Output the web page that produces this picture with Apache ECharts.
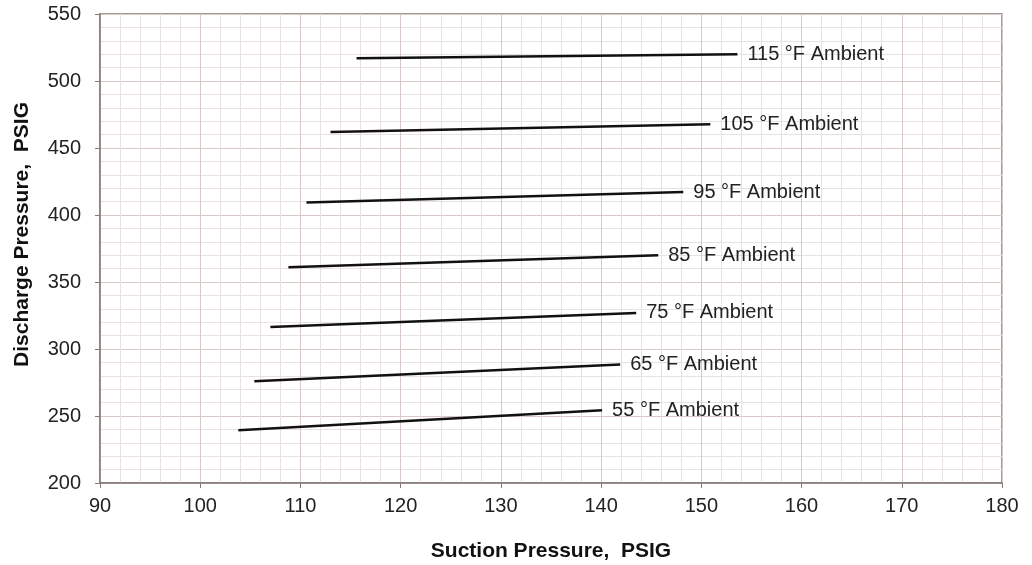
<!DOCTYPE html>
<html>
<head>
<meta charset="utf-8">
<script src="https://cdn.jsdelivr.net/npm/echarts@6/dist/echarts.min.js"></script>
<style>
  html, body { margin: 0; padding: 0; background: #fff; }
  #chart { width: 1032px; height: 565px; }
</style>
</head>
<body>
<div id="chart"></div>
<script>
// Discharge vs. suction pressure for each ambient temperature
const ambientLabels = ['55 °F Ambient', '65 °F Ambient', '75 °F Ambient', '85 °F Ambient',
                       '95 °F Ambient', '105 °F Ambient', '115 °F Ambient'];
// [suction PSIG, discharge PSIG] at the start and end of each line
const amb55  = [[103.8, 239.3], [140.1, 254.3]];
const amb65  = [[105.4, 275.9], [141.9, 288.4]];
const amb75  = [[107.0, 316.5], [143.5, 326.9]];
const amb85  = [[108.8, 361.1], [145.7, 370.0]];
const amb95  = [[110.6, 409.4], [148.2, 417.1]];
const amb105 = [[113.0, 461.9], [150.9, 467.8]];
const amb115 = [[115.6, 516.9], [153.6, 519.9]];
const ambientData = [amb55, amb65, amb75, amb85, amb95, amb105, amb115];

const xTicks = { min: 90, max: 180, interval: 10 };
const yTicks = { min: 200, max: 550, interval: 50 };

const FONT = '"Liberation Sans", Arial, sans-serif';
const axisColor = '#857a76';
const majorGrid = '#d6c9c6';
const minorGrid = '#e9e1e0';

const chart = echarts.init(document.getElementById('chart'), null, { renderer: 'canvas' });

function axisCommon(extra) {
  return Object.assign({
    type: 'value',
    axisLine: { show: true, onZero: false, lineStyle: { color: axisColor, width: 1.5 } },
    axisTick: { show: true, length: 5, lineStyle: { color: axisColor, width: 1 } },
    splitLine: { show: true, lineStyle: { color: majorGrid, width: 1 } },
    minorTick: { show: true, splitNumber: 5, length: 0 },
    minorSplitLine: { show: true, lineStyle: { color: minorGrid, width: 1 } },
    axisLabel: { color: '#222', fontFamily: FONT, fontSize: 20 }
  }, extra);
}

const option = {
  backgroundColor: '#fff',
  animation: false,
  grid: {
    left: 100, right: 30, top: 14, bottom: 82,
    outerBoundsMode: 'none', containLabel: false,
    show: true, borderColor: axisColor, borderWidth: 1.5, backgroundColor: 'transparent'
  },
  xAxis: axisCommon({
    min: xTicks.min, max: xTicks.max, interval: xTicks.interval,
    name: 'Suction Pressure,  PSIG', nameLocation: 'middle', nameGap: 58,
    nameTextStyle: { color: '#111', fontFamily: FONT, fontSize: 21, fontWeight: 'bold' },
    axisLabel: { color: '#222', fontFamily: FONT, fontSize: 20, margin: 13 }
  }),
  yAxis: axisCommon({
    min: yTicks.min, max: yTicks.max, interval: yTicks.interval,
    name: 'Discharge Pressure,  PSIG', nameLocation: 'middle', nameGap: 67,
    nameTextStyle: { color: '#111', fontFamily: FONT, fontSize: 21, fontWeight: 'bold',
                     padding: [0, 0, 0, 28] },
    axisLabel: { color: '#222', fontFamily: FONT, fontSize: 20, margin: 19 }
  }),
  series: ambientData.map((d, i) => ({
    type: 'line',
    name: ambientLabels[i],
    data: d,
    showSymbol: false,
    symbol: 'none',
    lineStyle: { color: '#111', width: 2.5 },
    endLabel: {
      show: true, formatter: '{a}', distance: 10,
      color: '#222', fontFamily: FONT, fontSize: 20
    }
  }))
};

chart.setOption(option);
</script>
</body>
</html>
